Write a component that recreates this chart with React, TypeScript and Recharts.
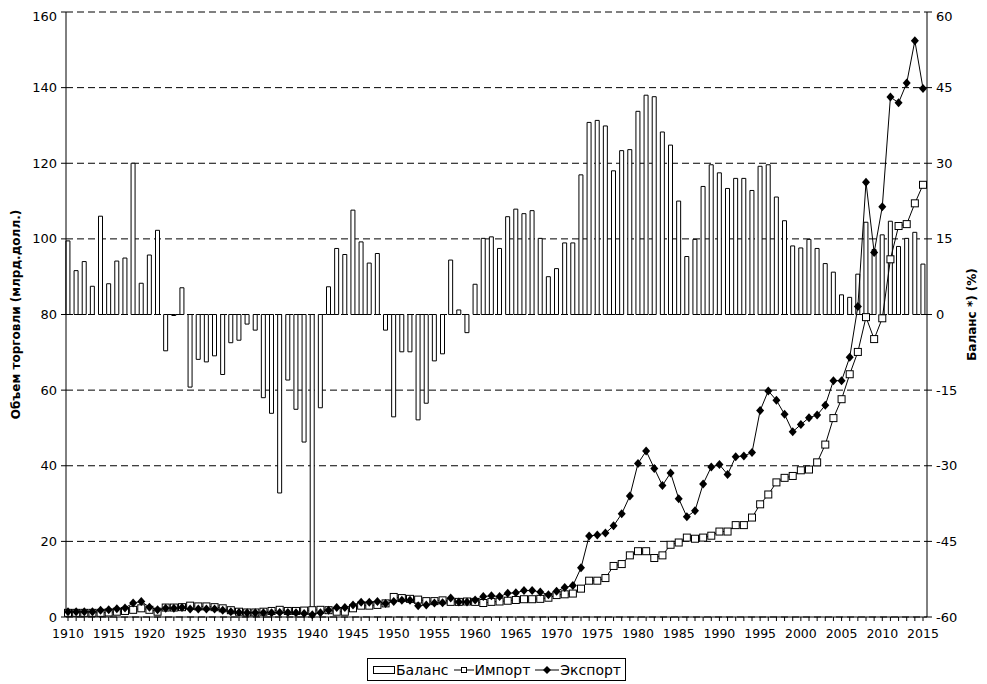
import React from 'react';
import { ComposedChart, Bar, Line, XAxis, YAxis, CartesianGrid, Legend } from 'recharts';

const YEARS = [
  1910, 1911, 1912, 1913, 1914, 1915, 1916, 1917, 1918, 1919,
  1920, 1921, 1922, 1923, 1924, 1925, 1926, 1927, 1928, 1929,
  1930, 1931, 1932, 1933, 1934, 1935, 1936, 1937, 1938, 1939,
  1940, 1941, 1942, 1943, 1944, 1945, 1946, 1947, 1948, 1949,
  1950, 1951, 1952, 1953, 1954, 1955, 1956, 1957, 1958, 1959,
  1960, 1961, 1962, 1963, 1964, 1965, 1966, 1967, 1968, 1969,
  1970, 1971, 1972, 1973, 1974, 1975, 1976, 1977, 1978, 1979,
  1980, 1981, 1982, 1983, 1984, 1985, 1986, 1987, 1988, 1989,
  1990, 1991, 1992, 1993, 1994, 1995, 1996, 1997, 1998, 1999,
  2000, 2001, 2002, 2003, 2004, 2005, 2006, 2007, 2008, 2009,
  2010, 2011, 2012, 2013, 2014, 2015,
];

// баланс, % (правая ось)
const BALANCE = [
  14.6, 8.7, 10.5, 5.6, 19.5, 6.1, 10.6, 11.2, 30.0, 6.2,
  11.8, 16.7, -7.2, -0.2, 5.3, -14.4, -8.9, -9.4, -8.2, -11.9,
  -5.6, -5.1, -1.9, -3.1, -16.5, -19.6, -35.4, -13.0, -18.8, -25.3,
  -59.2, -18.5, 5.5, 13.1, 11.9, 20.7, 14.4, 10.2, 12.1, -3.1,
  -20.3, -7.4, -7.4, -20.9, -17.6, -9.2, -7.8, 10.8, 0.9, -3.6,
  6.0, 15.1, 15.4, 13.1, 19.4, 20.9, 20.0, 20.6, 15.1, 7.5,
  9.1, 14.2, 14.2, 27.7, 38.1, 38.5, 37.4, 28.5, 32.5, 32.7,
  40.3, 43.5, 43.2, 36.2, 33.6, 22.5, 11.5, 14.9, 25.4, 29.7,
  28.1, 25.0, 27.0, 27.0, 24.6, 29.4, 29.7, 23.3, 18.6, 13.6,
  13.2, 14.9, 13.1, 10.1, 8.4, 3.9, 3.4, 8.0, 18.3, 12.9,
  15.8, 18.5, 13.5, 15.1, 16.3, 10.0,
];

// импорт, млрд долл.
const IMPORT = [
  1.1, 1.1, 1.1, 1.1, 1.1, 1.2, 1.4, 1.6, 1.9, 2.3,
  1.9, 1.4, 2.5, 2.5, 2.6, 3.0, 2.8, 2.8, 2.6, 2.3,
  1.8, 1.4, 1.2, 1.2, 1.4, 1.6, 1.9, 1.6, 1.6, 1.7,
  1.8, 1.9, 1.8, 1.4, 1.4, 2.3, 3.0, 3.0, 3.2, 3.6,
  5.3, 5.0, 4.8, 4.6, 4.2, 4.2, 4.4, 4.0, 4.0, 4.1,
  4.0, 3.7, 4.0, 4.1, 4.3, 4.5, 4.7, 4.7, 4.8, 5.1,
  5.8, 6.0, 6.2, 7.5, 9.6, 9.6, 10.3, 13.5, 14.0, 16.3,
  17.4, 17.4, 15.6, 16.3, 19.1, 19.7, 21.0, 20.7, 21.0, 21.5,
  22.6, 22.6, 24.3, 24.3, 26.3, 29.8, 32.4, 35.6, 36.8, 37.3,
  38.8, 39.0, 40.9, 45.6, 52.6, 57.6, 64.2, 70.1, 79.3, 73.5,
  79.0, 94.6, 103.4, 103.9, 109.4, 114.3,
];

// экспорт, млрд долл.
const EXPORT = [
  1.4, 1.4, 1.4, 1.4, 1.8, 1.9, 2.2, 2.4, 3.7, 4.1,
  2.6, 1.9, 2.3, 2.3, 2.5, 2.1, 2.1, 2.1, 2.1, 1.8,
  1.4, 1.2, 1.1, 1.1, 1.1, 1.1, 1.2, 1.2, 1.1, 0.9,
  0.6, 1.1, 1.8, 2.5, 2.5, 3.2, 3.9, 3.9, 4.1, 3.6,
  4.1, 4.4, 4.4, 3.0, 3.2, 3.7, 3.8, 5.0, 4.0, 4.0,
  4.5, 5.4, 5.6, 5.4, 6.3, 6.4, 7.0, 7.0, 6.6, 5.9,
  6.8, 7.8, 8.3, 13.0, 21.4, 21.7, 22.2, 24.1, 27.3, 32.0,
  40.6, 43.9, 39.3, 34.8, 38.1, 31.3, 26.5, 28.1, 35.2, 39.7,
  40.3, 37.7, 42.4, 42.6, 43.5, 54.6, 59.8, 57.3, 53.6, 49.0,
  50.9, 52.7, 53.4, 56.0, 62.5, 62.5, 68.7, 82.1, 115.0, 96.4,
  108.5, 137.5, 136.0, 141.2, 152.4, 139.8,
];

const LEFT_TICKS = [0, 20, 40, 60, 80, 100, 120, 140, 160];
const RIGHT_TICKS = [-60, -45, -30, -15, 0, 15, 30, 45, 60];

const data = YEARS.map((year, i) => ({
  year,
  balance: BALANCE[i],
  imp: IMPORT[i],
  exp: EXPORT[i],
}));

const FONT = '"DejaVu Sans", Arial, sans-serif';

const XTick = (props: any) => {
  const { x, y, payload } = props;
  if (payload.value % 5 !== 0) return null;
  return (
    <text x={x} y={y} dy="0.71em" textAnchor="middle" fontSize={12.5} fill="#000" fontFamily={FONT}>
      {payload.value}
    </text>
  );
};

const SquareDot = (props: any) => {
  const { cx, cy, index } = props;
  if (cx == null || cy == null) return null;
  return <rect key={index} x={cx - 3.5} y={cy - 3.5} width={7} height={7} fill="#fff" stroke="#000" strokeWidth={1} />;
};

const DiamondDot = (props: any) => {
  const { cx, cy, index } = props;
  if (cx == null || cy == null) return null;
  return (
    <polygon
      key={index}
      points={`${cx},${cy - 4.5} ${cx + 4},${cy} ${cx},${cy + 4.5} ${cx - 4},${cy}`}
      fill="#000"
    />
  );
};

const renderLegend = () => (
  <div style={{ display: 'flex', justifyContent: 'center', paddingLeft: 6 }}>
    <div
      style={{
        display: 'flex',
        alignItems: 'center',
        border: '1px solid #000',
        height: 21,
        padding: '0 4px',
        fontSize: 14,
        fontFamily: FONT,
        color: '#000',
        background: '#fff',
      }}
    >
      <svg width={24} height={10}>
        <rect x={1.5} y={1.5} width={21} height={7} fill="#fff" stroke="#000" />
      </svg>
      <span>Баланс</span>
      <svg width={22} height={10} style={{ marginLeft: 4 }}>
        <line x1={1} x2={21} y1={5} y2={5} stroke="#000" />
        <rect x={8.5} y={2.5} width={5} height={5} fill="#fff" stroke="#000" />
      </svg>
      <span>Импорт</span>
      <svg width={26} height={10} style={{ marginLeft: 4 }}>
        <line x1={1} x2={25} y1={5} y2={5} stroke="#000" />
        <polygon points="13,1 17,5 13,9 9,5" fill="#000" />
      </svg>
      <span>Экспорт</span>
    </div>
  </div>
);

export default function App() {
  return (
    <div style={{ fontFamily: FONT }}>
      <ComposedChart width={971} height={676} data={data} margin={{ top: 4, right: 0, bottom: 3, left: 0 }}>
        <CartesianGrid yAxisId="left" vertical={false} stroke="#000" strokeDasharray="7 4" />
        <XAxis
          dataKey="year"
          type="number"
          domain={[1910, 2015]}
          ticks={YEARS}
          interval={0}
          tick={<XTick />}
          tickSize={4}
          tickMargin={8}
          height={41}
          padding={{ left: 2, right: 4 }}
          stroke="#000"
        />
        <YAxis
          yAxisId="left"
          domain={[0, 160]}
          ticks={LEFT_TICKS}
          width={58}
          tickSize={5}
          tickMargin={4}
          stroke="#000"
          tick={{ fill: '#000', fontSize: 13, fontFamily: FONT }}
          label={{
            value: 'Объем торговли (млрд.долл.)',
            angle: -90,
            position: 'insideLeft',
            offset: 8,
            style: { textAnchor: 'middle', fontWeight: 'bold', fontSize: 12, fill: '#000', fontFamily: FONT },
          }}
        />
        <YAxis
          yAxisId="right"
          orientation="right"
          domain={[-60, 60]}
          ticks={RIGHT_TICKS}
          width={52}
          tickSize={5}
          tickMargin={4}
          stroke="#000"
          tick={{ fill: '#000', fontSize: 13, fontFamily: FONT }}
          label={{
            value: 'Баланс *) (%)',
            angle: -90,
            position: 'insideRight',
            offset: 7,
            style: { textAnchor: 'middle', fontWeight: 'bold', fontSize: 12, fill: '#000', fontFamily: FONT },
          }}
        />
        <Bar yAxisId="right" dataKey="balance" name="Баланс" fill="#fff" stroke="#000" strokeWidth={1} barSize={4} isAnimationActive={false} />
        <Line yAxisId="left" dataKey="imp" name="Импорт" stroke="#000" strokeWidth={1} dot={<SquareDot />} activeDot={false} isAnimationActive={false} />
        <Line yAxisId="left" dataKey="exp" name="Экспорт" stroke="#000" strokeWidth={1} dot={<DiamondDot />} activeDot={false} isAnimationActive={false} />
        <Legend verticalAlign="bottom" content={renderLegend} />
      </ComposedChart>
    </div>
  );
}
